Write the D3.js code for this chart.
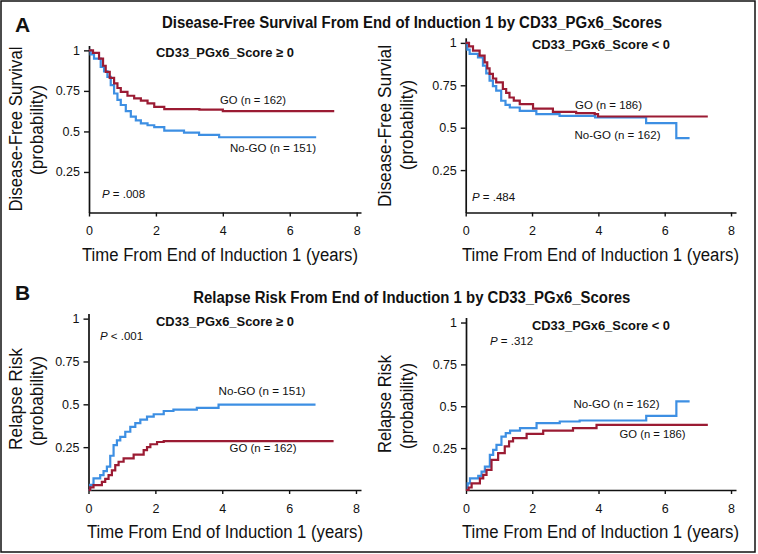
<!DOCTYPE html>
<html>
<head>
<meta charset="utf-8">
<script src="https://cdn.jsdelivr.net/npm/d3@7/dist/d3.min.js"></script>
<style>
  html, body { margin: 0; padding: 0; background: #fff; }
  svg { display: block; }
  text { font-family: "Liberation Sans", Arial, Helvetica, sans-serif; fill: #111; }
</style>
</head>
<body>
<svg id="chart" width="758" height="554"></svg>
<script>
// ---------- data ----------
const timeTicks = [0, 2, 4, 6, 8];
const probTicks = [0.25, 0.5, 0.75, 1];

// Disease-free survival, CD33_PGx6_Score >= 0
const dfsPosGO = [[0,1],[0.12,0.985],[0.3,0.949],[0.42,0.905],[0.5,0.867],[0.62,0.83],[0.75,0.796],[0.85,0.768],[0.95,0.744],[1.15,0.72],[1.35,0.704],[1.55,0.69],[1.75,0.673],[1.95,0.652],[2.25,0.638],[3.3,0.634],[4.0,0.625],[7.33,0.625]];
const dfsPosNoGO = [[0,1],[0.05,0.975],[0.15,0.949],[0.35,0.898],[0.45,0.87],[0.55,0.836],[0.65,0.785],[0.75,0.734],[0.85,0.695],[0.95,0.663],[1.1,0.625],[1.25,0.591],[1.4,0.568],[1.55,0.55],[1.75,0.538],[1.95,0.526],[2.25,0.505],[2.84,0.493],[3.29,0.479],[3.89,0.464],[6.79,0.464]];
// Disease-free survival, CD33_PGx6_Score < 0
const dfsNegGO = [[0,1],[0.1,0.98],[0.22,0.954],[0.42,0.925],[0.57,0.885],[0.65,0.85],[0.72,0.817],[0.82,0.79],[0.92,0.767],[1.12,0.728],[1.22,0.705],[1.32,0.678],[1.45,0.66],[1.63,0.639],[2.03,0.613],[2.63,0.593],[3.33,0.586],[3.89,0.58],[3.99,0.566],[7.3,0.566]];
const dfsNegNoGO = [[0,1],[0.05,0.96],[0.12,0.935],[0.37,0.915],[0.52,0.866],[0.62,0.82],[0.72,0.777],[0.82,0.745],[0.92,0.718],[1.07,0.659],[1.2,0.635],[1.33,0.619],[1.63,0.599],[2.13,0.58],[2.83,0.57],[3.9,0.56],[5.44,0.527],[6.35,0.438],[6.75,0.438]];
// Relapse risk, CD33_PGx6_Score >= 0
const relPosNoGO = [[0,0],[0.05,0.03],[0.15,0.068],[0.35,0.087],[0.45,0.11],[0.55,0.136],[0.65,0.2],[0.75,0.262],[0.85,0.29],[0.95,0.31],[1.1,0.34],[1.25,0.368],[1.4,0.39],[1.55,0.411],[1.75,0.428],[1.95,0.442],[2.25,0.461],[2.54,0.469],[3.24,0.479],[3.89,0.498],[6.79,0.498]];
const relPosGO = [[0,0],[0.05,0.015],[0.15,0.029],[0.4,0.048],[0.5,0.065],[0.6,0.087],[0.7,0.115],[0.8,0.145],[0.9,0.165],[1.05,0.184],[1.35,0.207],[1.65,0.233],[1.75,0.25],[1.85,0.267],[2.05,0.28],[2.25,0.285],[7.33,0.285]];
// Relapse risk, CD33_PGx6_Score < 0
const relNegNoGO = [[0,0],[0.05,0.04],[0.12,0.07],[0.37,0.084],[0.47,0.11],[0.57,0.14],[0.72,0.21],[0.82,0.24],[0.92,0.27],[1.07,0.319],[1.2,0.34],[1.33,0.355],[1.63,0.369],[2.13,0.399],[2.83,0.409],[3.43,0.415],[5.44,0.443],[6.35,0.529],[6.75,0.529]];
const relNegGO = [[0,0],[0.08,0.015],[0.17,0.04],[0.42,0.07],[0.52,0.09],[0.62,0.12],[0.77,0.18],[0.97,0.22],[1.17,0.26],[1.3,0.29],[1.42,0.31],[1.83,0.335],[2.33,0.355],[3.23,0.369],[3.94,0.389],[7.3,0.389]];

const titleA = "Disease-Free Survival From End of Induction 1 by CD33_PGx6_Scores";
const titleB = "Relapse Risk From End of Induction 1 by CD33_PGx6_Scores";
const subPos = "CD33_PGx6_Score \u2265 0";
const subNeg = "CD33_PGx6_Score < 0";
const xTitle = "Time From End of Induction 1 (years)";

// ---------- drawing ----------
const RED = "#9b1b33";
const BLUE = "#3d8fe3";
const svg = d3.select("#chart");

svg.append("rect").attr("x", 1).attr("y", 1).attr("width", 754).attr("height", 551)
  .attr("fill", "none").attr("stroke", "#111").attr("stroke-width", 1.5);

function txt(x, y, s, o = {}) {
  const t = svg.append("text").attr("x", x).attr("y", y)
    .attr("font-size", o.size || 11.5)
    .attr("font-weight", o.bold ? "bold" : "normal")
    .attr("text-anchor", o.anchor || "start")
    .text(s);
  if (o.len) t.attr("textLength", o.len).attr("lengthAdjust", "spacingAndGlyphs");
  return t;
}
function ptxt(x, y, rest) {
  const t = svg.append("text").attr("x", x).attr("y", y).attr("font-size", 11.5);
  t.append("tspan").attr("font-style", "italic").text("P");
  t.append("tspan").text(rest);
}
function ytitle(x, y, s, len) {
  svg.append("text").attr("transform", `translate(${x},${y}) rotate(-90)`)
    .attr("font-size", 19).attr("text-anchor", "middle")
    .attr("textLength", len).attr("lengthAdjust", "spacingAndGlyphs").text(s);
}

function panel(cfg) {
  const x = d3.scaleLinear().domain([0, cfg.xMax]).range(cfg.xr);
  const y = d3.scaleLinear().domain([0, 1.03]).range(cfg.yr);
  const g = svg.append("g");

  const xa = g.append("g").attr("transform", `translate(0,${cfg.yr[0]})`)
    .call(d3.axisBottom(x).tickValues(timeTicks).tickSize(4).tickSizeOuter(0).tickFormat(d3.format("d")));
  xa.selectAll("text").attr("dy", null).attr("y", 22.5).attr("font-size", 12.5)
    .attr("font-family", "Liberation Sans, Arial, sans-serif").attr("fill", "#111");

  const ya = g.append("g").attr("transform", `translate(${cfg.xr[0]},0)`)
    .call(d3.axisLeft(y).tickValues(probTicks).tickSize(5).tickPadding(4).tickSizeOuter(0).tickFormat(d => String(d)));
  ya.selectAll("text").attr("font-size", 12.5)
    .attr("font-family", "Liberation Sans, Arial, sans-serif").attr("fill", "#111");

  g.selectAll(".domain").attr("stroke", "#111").attr("stroke-width", 1.7);
  g.selectAll(".tick line").attr("stroke", "#111").attr("stroke-width", 1.4);

  const line = d3.line().x(d => x(d[0])).y(d => y(d[1])).curve(d3.curveStepAfter);
  cfg.series.forEach(s => {
    g.append("path").datum(s.data).attr("d", line)
      .attr("fill", "none").attr("stroke", s.color).attr("stroke-width", 2.2)
      .attr("stroke-linejoin", "miter");
  });
}

panel({ xMax: 8.13, xr: [89, 361], yr: [212.5, 45.5],
  series: [{ data: dfsPosNoGO, color: BLUE }, { data: dfsPosGO, color: RED }] });
panel({ xMax: 8.15, xr: [465.7, 736], yr: [212.5, 37.8],
  series: [{ data: dfsNegNoGO, color: BLUE }, { data: dfsNegGO, color: RED }] });
panel({ xMax: 8.15, xr: [88.5, 361], yr: [490, 313.5],
  series: [{ data: relPosNoGO, color: BLUE }, { data: relPosGO, color: RED }] });
panel({ xMax: 8.15, xr: [466, 736], yr: [490, 317.5],
  series: [{ data: relNegNoGO, color: BLUE }, { data: relNegGO, color: RED }] });

// Panel A texts
txt(15, 32, "A", { size: 21, bold: true });
txt(162, 28, titleA, { size: 16, bold: true, len: 500 });
txt(156, 57, subPos, { size: 13, bold: true, len: 138 });
txt(532, 49, subNeg, { size: 13, bold: true, len: 138 });
txt(220, 104, "GO (n = 162)", { len: 66 });
txt(230, 152, "No-GO (n = 151)", { len: 86 });
ptxt(102, 198, " = .008");
txt(575, 109, "GO (n = 186)", { len: 67 });
txt(574.5, 139, "No-GO (n = 162)", { len: 86 });
ptxt(472, 201, " = .484");
txt(82, 261, xTitle, { size: 18, len: 276 });
txt(462, 261, xTitle, { size: 18, len: 277 });
ytitle(21.5, 129, "Disease-Free Survival", 165);
ytitle(43, 130, "(probability)", 90);
ytitle(391, 126, "Disease-Free Survial", 162);
ytitle(413, 125, "(probability)", 90);

// Panel B texts
txt(15, 300, "B", { size: 21, bold: true });
txt(193.3, 303, titleB, { size: 16, bold: true, len: 437 });
txt(156, 326, subPos, { size: 13, bold: true, len: 138 });
txt(532, 330, subNeg, { size: 13, bold: true, len: 138 });
ptxt(100, 340, " < .001");
txt(218.5, 395, "No-GO (n = 151)", { len: 87 });
txt(229.5, 452, "GO (n = 162)", { len: 67 });
ptxt(490, 345, " = .312");
txt(573.5, 408, "No-GO (n = 162)", { len: 86 });
txt(619.5, 438, "GO (n = 186)", { len: 66 });
txt(87, 538, xTitle, { size: 18, len: 276 });
txt(462, 538, xTitle, { size: 18, len: 277 });
ytitle(21.5, 399, "Relapse Risk", 102);
ytitle(43, 401, "(probability)", 90);
ytitle(391, 404, "Relapse Risk", 98);
ytitle(413, 406, "(probability)", 86);
</script>
</body>
</html>
